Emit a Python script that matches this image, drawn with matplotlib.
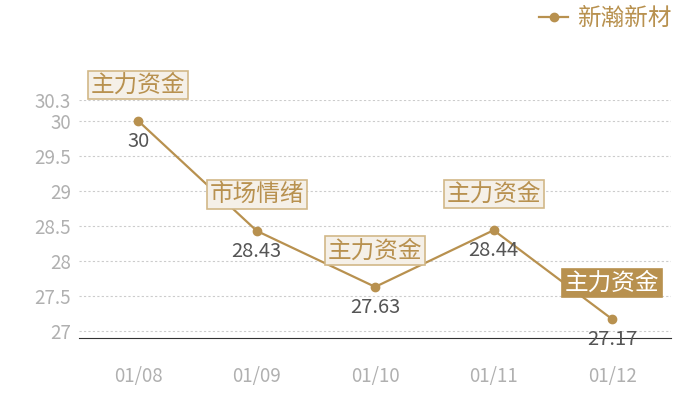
import matplotlib
matplotlib.use("Agg")
from matplotlib import pyplot as plt

plt.rcParams['font.family'] = ['Noto Sans CJK SC', 'DejaVu Sans']

dates = ["01/08", "01/09", "01/10", "01/11", "01/12"]
prices = [30, 28.43, 27.63, 28.44, 27.17]
tags = ["主力资金", "市场情绪", "主力资金", "主力资金", "主力资金"]
yticks = [27, 27.5, 28, 28.5, 29, 29.5, 30, 30.3]
series_name = "新瀚新材"

gold = "#b8914f"
fig = plt.figure(figsize=(7, 4), dpi=100)
ax = fig.add_axes([0.113, 0.155, 0.846, 0.595])

x = list(range(len(dates)))
ax.plot(x, prices, color=gold, lw=1.6, marker="o", ms=6, label=series_name, zorder=3)

for i, (v, t) in enumerate(zip(prices, tags)):
    ax.annotate(str(v), (i, v), xytext=(0, -7), textcoords="offset points",
                ha="center", va="top", fontsize=14.5, color="#555555")
    last = i == len(prices) - 1
    ax.annotate(t, (i, v), xytext=(0, 26), textcoords="offset points",
                ha="center", va="center", fontsize=17,
                color="white" if last else gold, zorder=5,
                bbox=dict(boxstyle="square,pad=0.12",
                          fc=gold if last else "#f5f0e8",
                          ec=gold if last else "#d2b888", lw=1.2))

ax.set_xlim(-0.5, len(dates) - 0.5)
ax.set_ylim(26.9, 30.3)
ax.set_xticks(x)
ax.set_xticklabels(dates)
ax.set_yticks(yticks)
ax.set_yticklabels([f"{t:g}" for t in yticks])
ax.tick_params(length=0, labelsize=13.5, colors="#b0b0b0")
ax.tick_params(axis="x", pad=20)
ax.tick_params(axis="y", pad=6)
ax.grid(axis="y", ls=(0, (2, 2)), color="#cccccc", lw=0.8)
for s in ["top", "right", "left"]:
    ax.spines[s].set_visible(False)
ax.spines["bottom"].set_color("#333333")

fig.legend(loc="upper right", bbox_to_anchor=(0.99, 1.035), frameon=False,
           fontsize=17, labelcolor=gold, handlelength=1.2, handletextpad=0.4)

fig.savefig("out.png", dpi=100)
